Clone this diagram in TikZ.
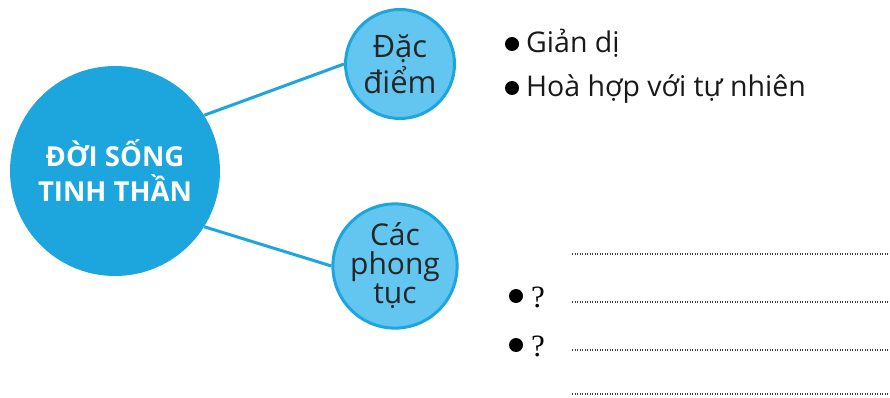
\documentclass[tikz,border=0pt]{standalone}
\usepackage{fontspec}
\setmainfont{Open Sans}
\newfontfamily\qfont{Liberation Serif}
\definecolor{bigblue}{HTML}{1DA6DD}
\definecolor{lightblue}{HTML}{62C6F0}
\begin{document}
\begin{tikzpicture}[x=1pt,y=-1pt,
  bigc/.style={circle,fill=bigblue,minimum size=210pt,inner sep=0pt,text=white,align=center,font=\fontsize{27.5}{35}\selectfont\bfseries},
  smallc/.style={circle,fill=lightblue,draw=bigblue,line width=3pt,minimum size=109pt,inner sep=0pt,align=center,text=black!85},
  conn/.style={draw=bigblue,line width=3pt},
  item/.style={anchor=base west,font=\fontsize{28.5}{32}\selectfont,text=black!90,inner sep=0pt},
  blank/.style={draw=black!75,line width=1.3pt,dash pattern=on 1.2pt off 1.3pt},
  bul/.style={circle,fill=black,inner sep=0pt,outer sep=0pt,minimum size=14pt,text width=0pt,text height=0pt,text depth=0pt,font=\tiny},
  qm/.style={anchor=base west,font=\qfont\fontsize{31}{32}\selectfont,inner sep=0pt}]
\useasboundingbox (0,0) rectangle (890,398);
\node[bigc] (main) at (115,171) {ĐỜI SỐNG\\TINH THẦN};
\node[smallc,font=\fontsize{31}{36}\selectfont] (dd) at (400,64) {Đặc\\điểm};
\node[smallc,font=\fontsize{30}{29}\selectfont] (pt) at (395,266) {Các\\phong\\tục};
\draw[conn] (main.32) -- (dd.west);
\draw[conn] (main.-32) -- (pt.west);
\node[bul] (b1) at (512,44) {};
\node[item] (t1) at (526,53) {Giản dị};
\node[bul] (b2) at (512,88) {};
\node[item] (t2) at (526,97) {Hoà hợp với tự nhiên};
\coordinate (l1a) at (572,254); \coordinate (l1b) at (890,254);
\coordinate (l2a) at (572,302); \coordinate (l2b) at (890,302);
\coordinate (l3a) at (572,350); \coordinate (l3b) at (890,350);
\coordinate (l4a) at (572,394); \coordinate (l4b) at (890,394);
\draw[blank] (l1a) -- (l1b);
\draw[blank] (l2a) -- (l2b);
\draw[blank] (l3a) -- (l3b);
\draw[blank] (l4a) -- (l4b);
\node[bul] (b3) at (516,296) {};
\node[qm] (q1) at (531,307) {?};
\node[bul] (b4) at (516,345) {};
\node[qm] (q2) at (531,356) {?};
\end{tikzpicture}
\end{document}
